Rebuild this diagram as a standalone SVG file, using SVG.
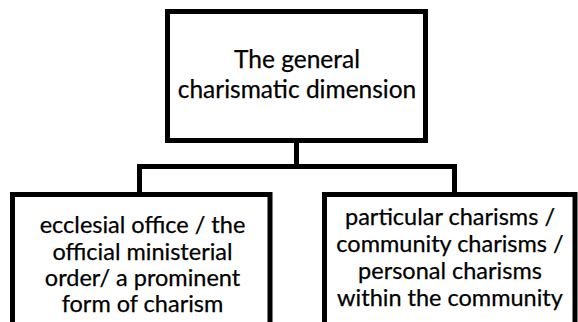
<svg xmlns="http://www.w3.org/2000/svg" width="578" height="322" viewBox="0 0 578 322">
<style>
.box{fill:#fff;stroke:#000;stroke-width:5}
.con{fill:none;stroke:#000;stroke-width:5;stroke-linejoin:miter}
text{font-family:Lato,"Liberation Sans",sans-serif;fill:#000;stroke:#000;stroke-width:0.25;text-anchor:middle}
.t1{font-size:24.5px}
.t2{font-size:23.5px}
</style>
<rect x="0" y="0" width="578" height="322" fill="#fff"/>
<g id="connectors">
<path class="con" d="M296.5 143V166.5M139.5 194V166.5H454.5V194"/>
</g>
<g id="top">
<rect class="box" x="167.5" y="11.5" width="258" height="129"/>
<text class="t1" x="297" y="68">The general</text>
<text class="t1" x="297" y="97.5">charismatic dimension</text>
</g>
<g id="left">
<rect class="box" x="12.5" y="194.5" width="257.5" height="140"/>
<text class="t2" x="142.5" y="233">ecclesial office / the</text>
<text class="t2" x="142.5" y="259.5">official ministerial</text>
<text class="t2" x="142.5" y="286">order/ a prominent</text>
<text class="t2" x="142.5" y="312">form of charism</text>
</g>
<g id="right">
<rect class="box" x="324.5" y="194.5" width="250.5" height="140"/>
<text class="t2" x="450" y="225">particular charisms /</text>
<text class="t2" x="450" y="252">community charisms /</text>
<text class="t2" x="450" y="279">personal charisms</text>
<text class="t2" x="450" y="306">within the community</text>
</g>
</svg>
